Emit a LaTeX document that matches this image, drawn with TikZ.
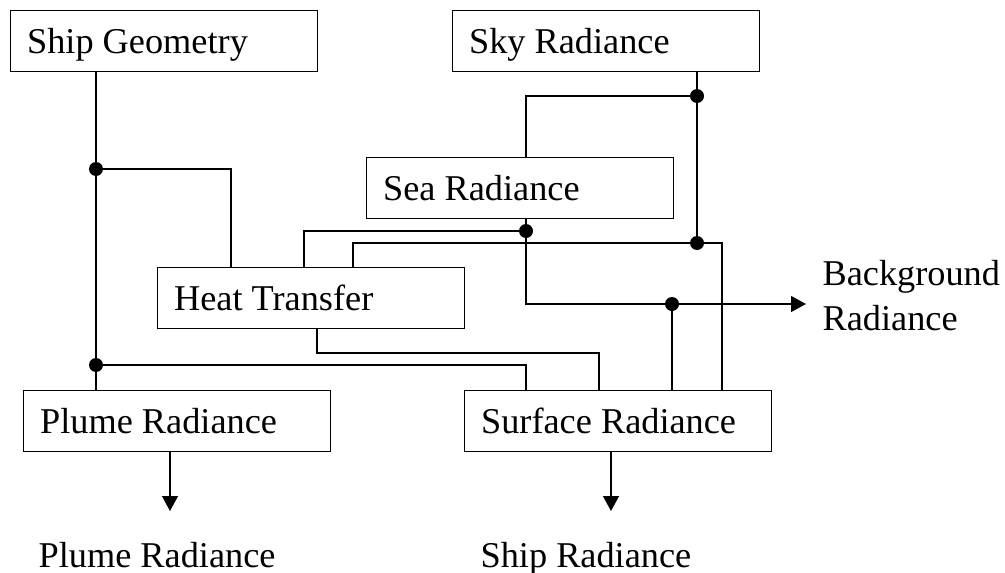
\documentclass[tikz,border=0pt]{standalone}
\usepackage{fontspec}
\setmainfont{Liberation Serif}
\usetikzlibrary{arrows.meta}
\newcommand{\boxtxt}[1]{\makebox[274pt][l]{#1}}
\begin{document}
\begin{tikzpicture}[x=1pt,y=-1pt,line width=1.2pt,
  box/.style={draw, rectangle, anchor=north west, inner xsep=16.5pt, inner ysep=0pt,
    minimum height=61pt, text height=25pt, text depth=0pt,
    font=\fontsize{36.3pt}{40pt}\selectfont},
  lbl/.style={anchor=base west, inner sep=0pt, font=\fontsize{36.3pt}{40pt}\selectfont},
  dot/.style={circle, fill, inner sep=0pt, minimum size=14pt},
  arr/.style={-{Triangle[length=15pt,width=16pt]}}]
\useasboundingbox (0,0) rectangle (1005,573);
% boxes
\node[box] (ship)  at (10,10)   {\boxtxt{Ship Geometry}};
\node[box] (sky)   at (452,10)  {\boxtxt{Sky Radiance}};
\node[box] (sea)   at (366,157) {\boxtxt{Sea Radiance}};
\node[box] (heat)  at (157,267) {\boxtxt{Heat Transfer}};
\node[box] (plume) at (23,390)  {\boxtxt{Plume Radiance}};
\node[box] (surf)  at (464,390) {\boxtxt{Surface Radiance}};
% junction dots
\node[dot] (d1) at (96,169) {};
\node[dot] (d2) at (96,365) {};
\node[dot] (d3) at (697,96) {};
\node[dot] (d4) at (697,243) {};
\node[dot] (d5) at (526,231) {};
\node[dot] (d6) at (672,304) {};
% helper coordinates
\coordinate (h1) at (231,0);
\coordinate (h2) at (304,0);
\coordinate (h3) at (353,0);
\coordinate (h4) at (317,353);
\coordinate (s1) at (526,0);
\coordinate (s3) at (599,0);
\coordinate (s4) at (722,0);
\coordinate (bg) at (806,304);
\coordinate (po) at (170,511);
\coordinate (so) at (611,511);
% connectors
\draw (ship.south -| d1) -- (plume.north -| d1);
\draw (d1.center) -| (heat.north -| h1);
\draw (d2.center) -| (surf.north -| s1);
\draw (sky.south -| d3) -- (d4.center);
\draw (d3.center) -| (sea.north -| s1);
\draw (heat.north -| h3) |- (s4 |- d4) -- (surf.north -| s4);
\draw[arr] (sea.south -| d5) |- (bg);
\draw (d5.center) -| (heat.north -| h2);
\draw (d6.center) -- (surf.north -| d6);
\draw (heat.south -| h4) -- (h4) -| (surf.north -| s3);
\draw[arr] (plume.south -| po) -- (po);
\draw[arr] (surf.south -| so) -- (so);
% output labels
\node[lbl] (pr)  at (38,567)  {Plume Radiance};
\node[lbl] (sr)  at (480,567) {Ship Radiance};
\node[lbl] (bg1) at (822,285) {Background};
\node[lbl] (bg2) at (822,330) {Radiance};
\end{tikzpicture}
\end{document}
